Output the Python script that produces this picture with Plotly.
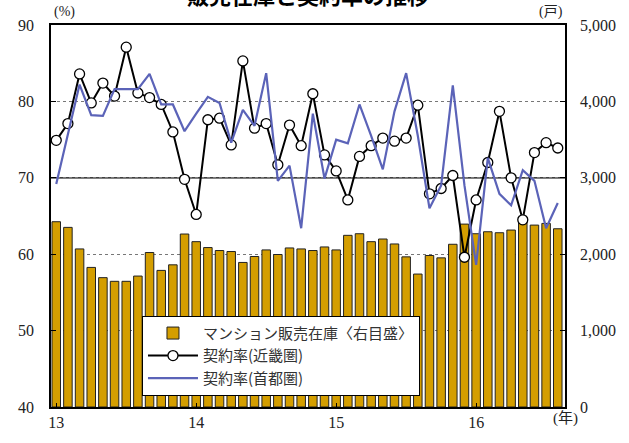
import plotly.graph_objects as go

# Months: Jan 2013 .. Aug 2016
months = [f"{y}-{m:02d}" for y in (2013, 2014, 2015, 2016) for m in range(1, 13)][:44]

stock = [2425, 2351, 2069, 1827, 1693, 1645, 1645, 1714, 2022, 1788, 1861, 2264,
         2164, 2087, 2048, 2035, 1892, 1970, 2056, 1996, 2082, 2069, 2048, 2095,
         2056, 2247, 2268, 2164, 2199, 2134, 1965, 1740, 1983, 1952, 2130, 2394,
         2268, 2294, 2281, 2316, 2424, 2381, 2403, 2333]

kinki = [74.9, 77.1, 83.6, 79.8, 82.4, 80.7, 87.1, 81.1, 80.5, 79.6, 76.0, 69.8,
         65.2, 77.6, 77.8, 74.3, 85.3, 76.5, 77.1, 71.7, 76.9, 74.2, 81.0, 73.0,
         70.9, 67.1, 72.8, 74.2, 75.2, 74.8, 75.2, 79.5, 67.9, 68.6, 70.3, 59.6,
         67.1, 72.0, 78.7, 70.0, 64.5, 73.3, 74.6, 73.9]

tokyo = [69.2, 75.8, 82.2, 78.2, 78.1, 81.6, 81.6, 81.6, 83.6, 79.6, 79.6, 76.1,
         78.4, 80.6, 79.8, 74.6, 78.9, 76.8, 83.7, 69.6, 71.6, 63.4, 78.4, 69.9,
         75.0, 74.5, 79.6, 75.5, 71.1, 78.7, 83.7, 75.5, 66.0, 69.0, 82.1, 69.0,
         58.6, 72.6, 67.9, 66.4, 71.0, 69.6, 63.4, 66.7]

year_ticks = [0, 12, 24, 36]
year_labels = ["13", "14", "15", "16"]

x = list(range(len(months)))

SERIF = "Liberation Serif, 'Times New Roman', 'Noto Sans CJK JP', serif"
JP = "'Noto Sans CJK JP', sans-serif"

fig = go.Figure()
fig.add_trace(go.Bar(
    x=x, y=stock, name="マンション販売在庫〈右目盛〉",
    marker=dict(color="#D49E00", line=dict(color="#222222", width=1)),
    yaxis="y",
))
fig.add_trace(go.Scatter(
    x=x, y=kinki, name="契約率(近畿圏)", mode="lines+markers",
    line=dict(color="black", width=2),
    marker=dict(symbol="circle", size=10, color="white", line=dict(color="black", width=1.3)),
    yaxis="y2",
))
fig.add_trace(go.Scatter(
    x=x, y=tokyo, name="契約率(首都圏)", mode="lines",
    line=dict(color="#5B63B8", width=2.2),
    yaxis="y2",
))

fig.update_layout(
    width=629, height=443,
    margin=dict(l=51, r=64, t=25, b=33),
    paper_bgcolor="white", plot_bgcolor="white",
    bargap=0.27,
    showlegend=True,
    font=dict(family=SERIF, size=16, color="#222222"),
    xaxis=dict(
        range=[-0.45, 43.62], tickmode="array", tickvals=year_ticks, ticktext=year_labels,
        showgrid=False, showline=True, linecolor="black", linewidth=1.5, mirror=True,
        ticks="inside", ticklen=4, tickcolor="black", zeroline=False,
        tickfont=dict(family=SERIF, size=16, color="#222222"),
    ),
    yaxis=dict(
        side="right", range=[0, 5000], dtick=1000, tickformat=",",
        showgrid=True, gridcolor="#777777", griddash="dot", gridwidth=1,
        showline=True, linecolor="black", linewidth=1.5,
        ticks="inside", ticklen=5, tickcolor="black", zeroline=False,
        ticklabelstandoff=10, automargin=False,
        tickfont=dict(family=SERIF, size=16, color="#222222"),
    ),
    yaxis2=dict(
        side="left", overlaying="y", range=[40, 90], dtick=10,
        showgrid=False, showline=True, linecolor="black", linewidth=1.5,
        ticks="inside", ticklen=5, tickcolor="black", zeroline=False,
        ticklabelstandoff=12, automargin=False,
        tickfont=dict(family=SERIF, size=16, color="#222222"),
    ),
    legend=dict(
        x=0.177, y=0.134, xanchor="left", yanchor="middle",
        bgcolor="white", bordercolor="black", borderwidth=1,
        font=dict(family=JP, size=15, color="#333333"),
        tracegroupgap=0, itemwidth=50,
    ),
)

# solid reference line at 70%
fig.add_shape(type="line", xref="paper", x0=0, x1=1, yref="y2", y0=70, y1=70,
              line=dict(color="black", width=1.2), layer="below")

# title (partly cut off at the top edge, as in the reference)
fig.add_annotation(text="<b>販売在庫と契約率の推移</b>", xref="paper", yref="paper",
                   x=0.5, y=1.0, yanchor="middle", yshift=31, showarrow=False,
                   font=dict(family=JP, size=22, color="black"))

fig.add_annotation(text="(%)", xref="paper", yref="paper", x=0.0, xanchor="left", xshift=1,
                   y=1.0, yanchor="bottom", yshift=3,
                   showarrow=False, font=dict(family=SERIF, size=14, color="#222222"))
fig.add_annotation(text="(戸)", xref="paper", yref="paper", x=1.0, xanchor="right", xshift=0,
                   y=1.0, yanchor="bottom", yshift=3,
                   showarrow=False, font=dict(family=SERIF, size=14, color="#222222"))
fig.add_annotation(text="(年)", xref="paper", yref="paper", x=1.03, y=0, yshift=-22,
                   showarrow=False, font=dict(family=SERIF, size=15, color="#222222"))

fig.write_html("out.html", config={"displayModeBar": False},
               post_script="document.body.style.margin='0';")
